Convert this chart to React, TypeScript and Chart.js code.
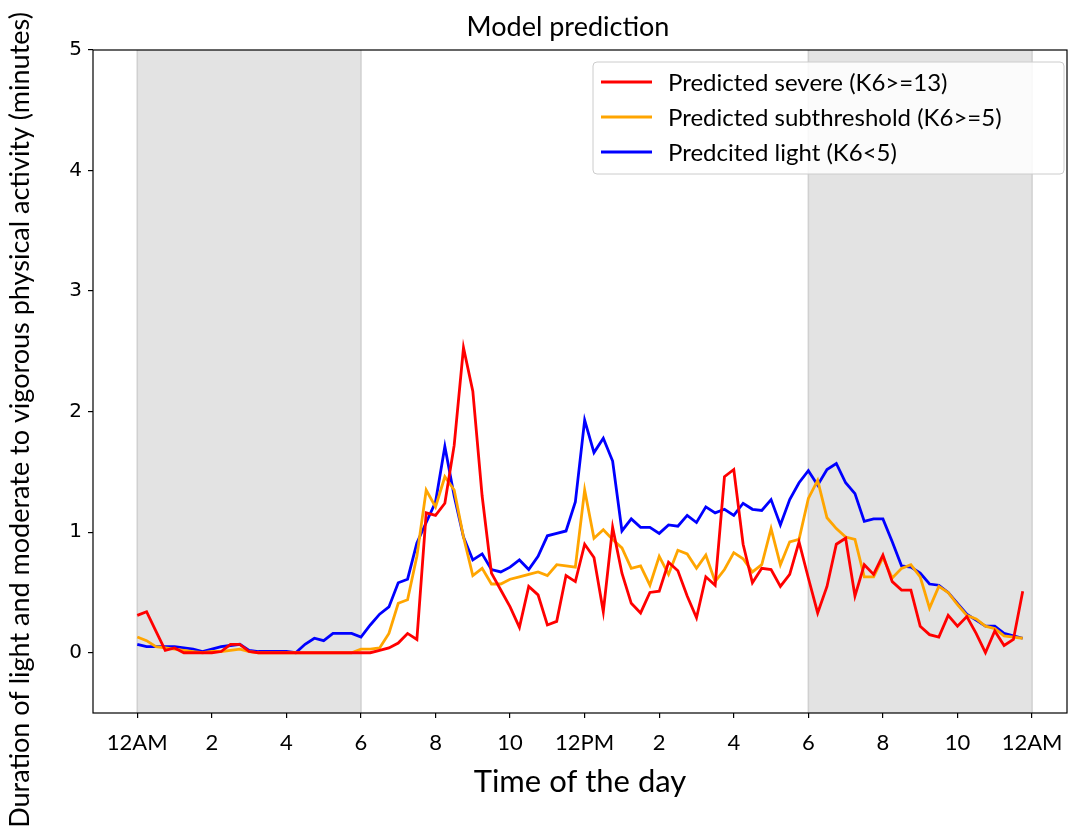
import React, { useEffect, useRef } from "react";
import { Chart, registerables } from "chart.js";

Chart.register(...registerables);

// Predicted minutes per 15-minute slot (96 slots, 12AM -> 11:45PM)
const severe = [
  0.31, 0.34, 0.18, 0.02, 0.04, 0.0, 0.0, 0.0, 0.0, 0.01, 0.07, 0.07,
  0.01, 0.0, 0.0, 0.0, 0.0, 0.0, 0.0, 0.0, 0.0, 0.0, 0.0, 0.0,
  0.0, 0.0, 0.02, 0.04, 0.08, 0.16, 0.11, 1.16, 1.14, 1.24, 1.72, 2.53,
  2.17, 1.3, 0.66, 0.52, 0.38, 0.21, 0.55, 0.48, 0.23, 0.26, 0.64, 0.59,
  0.9, 0.79, 0.34, 1.04, 0.66, 0.41, 0.33, 0.5, 0.51, 0.75, 0.68, 0.47,
  0.29, 0.63, 0.56, 1.46, 1.52, 0.9, 0.58, 0.7, 0.69, 0.55, 0.65, 0.92,
  0.62, 0.33, 0.55, 0.9, 0.95, 0.47, 0.73, 0.65, 0.81, 0.59, 0.52, 0.52,
  0.22, 0.15, 0.13, 0.31, 0.22, 0.3, 0.16, 0.0, 0.18, 0.06, 0.11, 0.51,
];
const subthreshold = [
  0.13, 0.1, 0.05, 0.04, 0.03, 0.02, 0.01, 0.0, 0.01, 0.01, 0.02, 0.03,
  0.01, 0.0, 0.0, 0.0, 0.0, 0.0, 0.0, 0.0, 0.0, 0.0, 0.0, 0.0,
  0.03, 0.03, 0.04, 0.16, 0.41, 0.44, 0.8, 1.35, 1.21, 1.46, 1.35, 0.96,
  0.64, 0.7, 0.57, 0.57, 0.61, 0.63, 0.65, 0.67, 0.64, 0.73, 0.72, 0.71,
  1.35, 0.95, 1.02, 0.94, 0.87, 0.7, 0.72, 0.56, 0.8, 0.65, 0.85, 0.82,
  0.7, 0.81, 0.59, 0.69, 0.83, 0.78, 0.67, 0.73, 1.03, 0.73, 0.92, 0.94,
  1.28, 1.43, 1.12, 1.03, 0.96, 0.94, 0.63, 0.63, 0.79, 0.62, 0.7, 0.73,
  0.63, 0.37, 0.55, 0.5, 0.4, 0.31, 0.28, 0.22, 0.2, 0.14, 0.13, 0.12,
];
const light = [
  0.07, 0.05, 0.05, 0.05, 0.05, 0.04, 0.03, 0.01, 0.03, 0.05, 0.06, 0.07,
  0.02, 0.01, 0.01, 0.01, 0.01, 0.0, 0.07, 0.12, 0.1, 0.16, 0.16, 0.16,
  0.13, 0.23, 0.32, 0.38, 0.58, 0.61, 0.91, 1.08, 1.25, 1.71, 1.3, 0.96,
  0.77, 0.82, 0.69, 0.67, 0.71, 0.77, 0.69, 0.8, 0.97, 0.99, 1.01, 1.25,
  1.93, 1.66, 1.78, 1.59, 1.01, 1.11, 1.04, 1.04, 0.99, 1.06, 1.05, 1.14,
  1.08, 1.21, 1.16, 1.19, 1.14, 1.24, 1.19, 1.18, 1.27, 1.06, 1.27, 1.41,
  1.51, 1.39, 1.52, 1.57, 1.41, 1.32, 1.09, 1.11, 1.11, 0.92, 0.72, 0.71,
  0.66, 0.57, 0.56, 0.5, 0.41, 0.32, 0.27, 0.22, 0.22, 0.16, 0.14, 0.12,
];
const hours = severe.map((_, i) => i * 0.25);

const seriesLabels = [
  "Predicted severe (K6>=13)",
  "Predicted subthreshold (K6>=5)",
  "Predcited light (K6<5)",
];
const seriesColors = ["#ff0000", "#ffa500", "#0000ff"];

const tickHours = [0, 2, 4, 6, 8, 10, 12, 14, 16, 18, 20, 22, 24];
const tickLabels = ["12AM", "2", "4", "6", "8", "10", "12PM", "2", "4", "6", "8", "10", "12AM"];
const yTickValues = [0, 1, 2, 3, 4, 5];
const shadedSpans = [
  [0, 6],
  [18, 24],
];

const chartTitle = "Model prediction";
const xTitle = "Time of the day";
const yTitle = "Duration of light and moderate to vigorous physical activity (minutes)";

const LABEL_FONT = "Lato, 'Open Sans', sans-serif";

const decorPlugin = {
  id: "decor",
  beforeDatasetsDraw(chart: any) {
    const { ctx, chartArea, scales } = chart;
    const xs = scales.x;
    ctx.save();
    for (const [a, b] of shadedSpans) {
      const x0 = xs.getPixelForValue(a);
      const x1 = xs.getPixelForValue(b);
      ctx.fillStyle = "#e3e3e3";
      ctx.fillRect(x0, chartArea.top, x1 - x0, chartArea.bottom - chartArea.top);
      ctx.strokeStyle = "#d0d0d0";
      ctx.lineWidth = 1.5;
      ctx.beginPath();
      ctx.moveTo(x0, chartArea.top);
      ctx.lineTo(x0, chartArea.bottom);
      ctx.moveTo(x1, chartArea.top);
      ctx.lineTo(x1, chartArea.bottom);
      ctx.stroke();
    }
    ctx.restore();
  },
  afterDraw(chart: any) {
    const { ctx, chartArea } = chart;
    ctx.save();
    // frame
    ctx.strokeStyle = "#000000";
    ctx.lineWidth = 1.2;
    ctx.strokeRect(chartArea.left, chartArea.top, chartArea.right - chartArea.left, chartArea.bottom - chartArea.top);

    // titles
    ctx.fillStyle = "#000000";
    ctx.textAlign = "center";
    ctx.textBaseline = "middle";
    ctx.font = `27px ${LABEL_FONT}`;
    ctx.fillText(chartTitle, 568, 27);
    ctx.font = `31px ${LABEL_FONT}`;
    ctx.fillText(xTitle, 580, 782);
    ctx.save();
    ctx.translate(20, 420);
    ctx.rotate(-Math.PI / 2);
    ctx.font = `27px ${LABEL_FONT}`;
    ctx.fillText(yTitle, 0, 0);
    ctx.restore();

    // legend
    const right = chartArea.right - 3;
    const left = 593;
    const top = chartArea.top + 12;
    const w = right - left;
    const h = 112;
    const r = 4;
    ctx.beginPath();
    ctx.moveTo(left + r, top);
    ctx.lineTo(left + w - r, top);
    ctx.quadraticCurveTo(left + w, top, left + w, top + r);
    ctx.lineTo(left + w, top + h - r);
    ctx.quadraticCurveTo(left + w, top + h, left + w - r, top + h);
    ctx.lineTo(left + r, top + h);
    ctx.quadraticCurveTo(left, top + h, left, top + h - r);
    ctx.lineTo(left, top + r);
    ctx.quadraticCurveTo(left, top, left + r, top);
    ctx.closePath();
    ctx.fillStyle = "rgba(255,255,255,0.85)";
    ctx.fill();
    ctx.strokeStyle = "#cccccc";
    ctx.lineWidth = 1;
    ctx.stroke();
    ctx.textAlign = "left";
    ctx.textBaseline = "middle";
    ctx.font = `24px ${LABEL_FONT}`;
    chart.data.datasets.forEach((ds: any, i: number) => {
      const y = top + 20 + i * 35;
      ctx.strokeStyle = ds.borderColor;
      ctx.lineWidth = 2.8;
      ctx.beginPath();
      ctx.moveTo(left + 8, y);
      ctx.lineTo(left + 59, y);
      ctx.stroke();
      ctx.fillStyle = "#000000";
      ctx.fillText(ds.label, left + 75, y + 1);
    });
    ctx.restore();
  },
};

export default function App() {
  const ref = useRef<HTMLCanvasElement | null>(null);

  useEffect(() => {
    if (!ref.current) return;
    const seriesValues = [severe, subthreshold, light];
    const chart = new Chart(ref.current, {
      type: "line",
      data: {
        datasets: seriesValues.map((vals, k) => ({
          label: seriesLabels[k],
          data: vals.map((v, i) => ({ x: hours[i], y: v })),
          borderColor: seriesColors[k],
          backgroundColor: seriesColors[k],
          borderWidth: 2.8,
          pointRadius: 0,
          tension: 0,
          fill: false,
        })),
      },
      options: {
        responsive: false,
        animation: false,
        layout: { padding: { top: 50, right: 1, left: 0, bottom: 0 } },
        plugins: {
          legend: { display: false },
          title: { display: false },
          tooltip: { enabled: false },
        },
        scales: {
          x: {
            type: "linear",
            min: -1.1875,
            max: 24.9375,
            afterBuildTicks: (scale: any) => {
              scale.ticks = tickHours.map((v) => ({ value: v }));
            },
            afterFit: (scale: any) => {
              scale.height = 115;
              scale.paddingLeft = 0;
              scale.paddingRight = 0;
            },
            ticks: {
              autoSkip: false,
              maxRotation: 0,
              color: "#000000",
              padding: 12,
              font: { family: LABEL_FONT, size: 22 },
              callback: (v: any) => {
                const idx = tickHours.indexOf(Number(v));
                return idx >= 0 ? tickLabels[idx] : "";
              },
            },
            grid: {
              drawOnChartArea: false,
              drawTicks: true,
              tickLength: 5,
              color: "#000000",
              lineWidth: 1.2,
            },
            border: { display: false },
          },
          y: {
            type: "linear",
            min: -0.5,
            max: 5,
            afterBuildTicks: (scale: any) => {
              scale.ticks = yTickValues.map((v) => ({ value: v }));
            },
            afterFit: (scale: any) => {
              scale.width = 93;
              scale.paddingTop = 0;
              scale.paddingBottom = 0;
            },
            ticks: {
              color: "#000000",
              padding: 6,
              font: { family: "'DejaVu Sans'", size: 20 },
              callback: (v: any) => String(v),
            },
            grid: {
              drawOnChartArea: false,
              drawTicks: true,
              tickLength: 5,
              color: "#000000",
              lineWidth: 1.2,
            },
            border: { display: false },
          },
        },
      },
      plugins: [decorPlugin],
    });
    return () => chart.destroy();
  }, []);

  return (
    <div style={{ position: "fixed", left: 0, top: 0, width: 1068, height: 828, background: "#ffffff" }}>
      <canvas ref={ref} width={1068} height={828} style={{ width: 1068, height: 828, display: "block" }} />
    </div>
  );
}
